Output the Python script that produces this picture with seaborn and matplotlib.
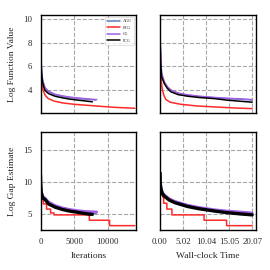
import matplotlib
matplotlib.use("Agg")
import matplotlib.pyplot as plt
import seaborn as sns

# ---------------- data ----------------
methods = ["AGG", "BCG", "CG", "PCG"]
colors = {"AGG": "#5b7fc0", "BCG": "#ff2a2a", "CG": "#a45ee5", "PCG": "#000000"}

# Log function value vs iterations
iter_agg = [0, 30, 80, 150, 300, 650, 1200, 2150, 3200, 4150, 5200, 6300, 7200, 8200]
fval_agg = [10.4, 8.3, 6.6, 5.6, 4.8, 4.12, 3.8, 3.56, 3.43, 3.33, 3.26, 3.2, 3.15, 3.11]
iter_cg = [0, 30, 80, 150, 300, 650, 1200, 2150, 3200, 4150, 5200, 6300, 7200, 8350]
fval_cg = [10.4, 8.4, 6.7, 5.7, 4.85, 4.17, 3.85, 3.6, 3.46, 3.37, 3.3, 3.24, 3.19, 3.14]
iter_pcg = [0, 30, 80, 150, 300, 650, 1200, 2150, 3200, 4150, 5200, 6300, 7000, 7700]
fval_pcg = [10.4, 8.1, 6.4, 5.4, 4.6, 3.94, 3.65, 3.43, 3.3, 3.2, 3.12, 3.05, 3.0, 2.95]
iter_bcg = [0, 30, 80, 150, 250, 390, 700, 1150, 2000, 3250, 5000, 8150, 11000, 14000]
fval_bcg = [10.4, 7.8, 6.0, 5.0, 4.4, 3.94, 3.5, 3.23, 3.02, 2.86, 2.74, 2.6, 2.48, 2.4]

# Log function value vs wall-clock time
time_agg = [0, 0.05, 0.15, 0.35, 0.95, 1.6, 2.4, 4.0, 6.0, 8.5, 11.7, 14.5, 17.5, 20.07]
tval_agg = [10.4, 8.0, 6.5, 5.3, 4.6, 4.2, 3.92, 3.67, 3.52, 3.4, 3.3, 3.23, 3.17, 3.11]
time_cg = [0, 0.05, 0.15, 0.35, 0.95, 1.6, 2.4, 4.0, 6.0, 8.5, 11.7, 14.5, 17.5, 20.07]
tval_cg = [10.4, 8.1, 6.6, 5.4, 4.65, 4.25, 3.96, 3.7, 3.55, 3.43, 3.33, 3.26, 3.2, 3.14]
time_pcg = [0, 0.05, 0.15, 0.35, 0.95, 1.6, 2.4, 4.0, 6.0, 8.5, 11.7, 14.5, 17.5, 20.07]
tval_pcg = [10.4, 7.9, 6.3, 5.1, 4.5, 4.1, 3.8, 3.56, 3.43, 3.32, 3.23, 3.1, 3.0, 2.92]
time_bcg = [0, 0.05, 0.15, 0.3, 0.55, 0.9, 1.3, 2.2, 4.5, 8.0, 11.7, 16.0, 20.07]
tval_bcg = [10.4, 7.6, 5.8, 4.6, 3.94, 3.45, 3.14, 2.92, 2.74, 2.6, 2.52, 2.43, 2.37]

# Log gap estimate vs iterations
giter_agg = [0, 20, 60, 150, 350, 650, 1200, 2150, 3200, 4250, 5500, 6500, 7250, 8200]
gap_agg = [11.0, 9.8, 9.0, 8.3, 7.7, 7.4, 6.8, 6.25, 5.9, 5.65, 5.45, 5.32, 5.25, 5.2]
giter_cg = [0, 20, 60, 150, 350, 650, 1200, 2150, 3200, 4250, 5500, 6500, 7250, 8350]
gap_cg = [11.0, 9.9, 9.1, 8.4, 7.8, 7.5, 6.9, 6.35, 6.0, 5.75, 5.55, 5.45, 5.4, 5.35]
giter_pcg = [0, 20, 60, 150, 350, 650, 1200, 2150, 3200, 4250, 5500, 6500, 7250, 7700]
gap_pcg = [11.0, 9.7, 8.9, 8.1, 7.5, 7.3, 6.6, 6.1, 5.75, 5.5, 5.3, 5.12, 5.02, 4.98]
giter_bcg = [0, 60, 150, 400, 400, 900, 900, 1500, 1500, 2000, 2000, 7250, 7250, 10250, 10250, 14000]
gap_bcg = [11.0, 9.6, 8.6, 7.8, 6.6, 6.6, 5.8, 5.8, 5.2, 5.2, 4.9, 4.9, 4.07, 4.07, 3.23, 3.23]

# Log gap estimate vs wall-clock time
gtime_agg = [0, 0.05, 0.2, 0.5, 0.95, 2.0, 3.2, 6.0, 8.5, 11.8, 14.5, 17.5, 20.07]
gtime_val_agg = [11.4, 10.0, 9.0, 8.3, 7.9, 7.3, 6.9, 6.3, 5.95, 5.6, 5.4, 5.25, 5.1]
gtime_cg = [0, 0.05, 0.2, 0.5, 0.95, 2.0, 3.2, 6.0, 8.5, 11.8, 14.5, 17.5, 20.07]
gtime_val_cg = [11.4, 10.1, 9.1, 8.4, 8.0, 7.4, 7.0, 6.4, 6.05, 5.7, 5.5, 5.35, 5.2]
gtime_pcg = [0, 0.05, 0.2, 0.5, 0.95, 2.0, 3.2, 6.0, 8.5, 11.8, 14.5, 17.5, 20.07]
gtime_val_pcg = [11.4, 9.9, 8.9, 8.2, 7.8, 7.2, 6.8, 6.2, 5.85, 5.5, 5.25, 5.05, 4.9]
gtime_bcg = [0, 0.2, 0.5, 0.8, 0.8, 1.5, 1.5, 2.6, 2.6, 9.6, 9.6, 14.5, 14.5, 20.07]
gtime_val_bcg = [9.6, 8.6, 7.9, 7.5, 6.7, 6.7, 5.8, 5.8, 4.9, 4.9, 4.07, 4.07, 3.23, 3.23]

time_ticks = [0.00, 5.02, 10.04, 15.05, 20.07]
iter_ticks = [0, 5000, 10000]

# ---------------- style ----------------
sns.set_style("whitegrid", {"grid.linestyle": "--", "grid.color": "#a8a8a8",
                            "axes.edgecolor": "black"})
plt.rcParams["font.family"] = ["Liberation Serif", "DejaVu Serif"]

fig, axes = plt.subplots(2, 2, figsize=(2.7, 2.7), dpi=100, sharey="row", sharex="col")
fig.subplots_adjust(left=0.15, right=0.948, top=0.946, bottom=0.148, wspace=0.245, hspace=0.19)

panels = {
    (0, 0): {"AGG": (iter_agg, fval_agg), "BCG": (iter_bcg, fval_bcg),
             "CG": (iter_cg, fval_cg), "PCG": (iter_pcg, fval_pcg)},
    (0, 1): {"AGG": (time_agg, tval_agg), "BCG": (time_bcg, tval_bcg),
             "CG": (time_cg, tval_cg), "PCG": (time_pcg, tval_pcg)},
    (1, 0): {"AGG": (giter_agg, gap_agg), "BCG": (giter_bcg, gap_bcg),
             "CG": (giter_cg, gap_cg), "PCG": (giter_pcg, gap_pcg)},
    (1, 1): {"AGG": (gtime_agg, gtime_val_agg), "BCG": (gtime_bcg, gtime_val_bcg),
             "CG": (gtime_cg, gtime_val_cg), "PCG": (gtime_pcg, gtime_val_pcg)},
}

for (r, c), series in panels.items():
    ax = axes[r, c]
    for m in methods:
        xs, ys = series[m]
        lw = 1.1
        if r == 1 and m in ("PCG", "CG", "AGG"):
            lw = 2.0 if m != "PCG" else 2.4
        sns.lineplot(x=xs, y=ys, ax=ax, color=colors[m], linewidth=lw,
                     estimator=None, sort=False, label=m if (r, c) == (0, 0) else None,
                     legend=False)
    for sp in ax.spines.values():
        sp.set_color("black")
        sp.set_linewidth(1.0)
    ax.grid(True, linestyle="--", color="#a8a8a8", linewidth=0.8)
    ax.tick_params(labelsize=6.3, length=0, pad=6)

axes[0, 0].set_ylim(2.0, 10.4)
axes[1, 0].set_ylim(2.55, 17.8)
axes[0, 0].set_yticks([4, 6, 8, 10])
axes[1, 0].set_yticks([5, 10, 15])
axes[1, 0].set_xlim(0, 14250)
axes[1, 1].set_xlim(0, 20.9)
axes[1, 0].set_xticks(iter_ticks)
axes[1, 1].set_xticks(time_ticks)
axes[1, 1].set_xticklabels([f"{t:.2f}" for t in time_ticks])

axes[0, 0].set_ylabel("Log Function Value", fontsize=6.8, labelpad=5)
axes[1, 0].set_ylabel("Log Gap Estimate", fontsize=6.8, labelpad=5)
axes[1, 0].set_xlabel("Iterations", fontsize=6.8, labelpad=4)
axes[1, 1].set_xlabel("Wall-clock Time", fontsize=6.8, labelpad=4)
for ax in (axes[0, 1], axes[1, 1]):
    ax.set_ylabel("")
for ax in (axes[0, 0], axes[0, 1]):
    ax.set_xlabel("")

handles, labels = axes[0, 0].get_legend_handles_labels()
leg = axes[0, 0].legend(handles, labels, loc="upper right", fontsize=3,
                        frameon=True, handlelength=3, borderpad=0.6,
                        labelspacing=0.6, handletextpad=0.8)
leg.get_frame().set_edgecolor("#cccccc")
leg.get_frame().set_linewidth(0.5)

fig.savefig("out.png", dpi=100)
